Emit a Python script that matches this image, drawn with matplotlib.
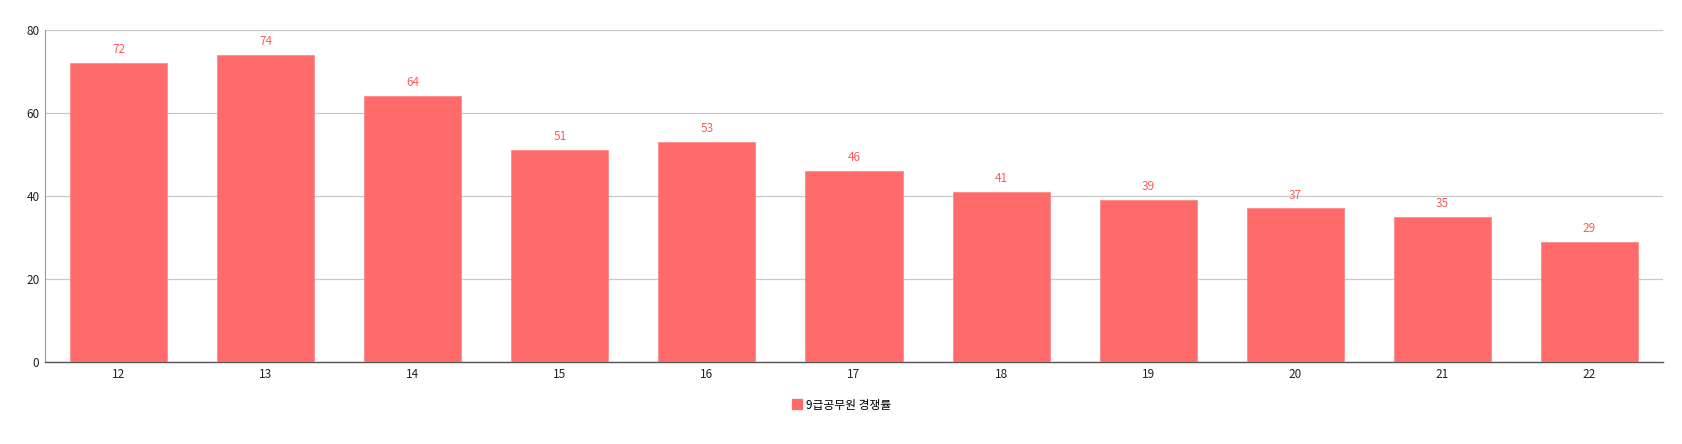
import matplotlib
matplotlib.use('Agg')
import matplotlib.pyplot as plt
from matplotlib.lines import Line2D

plt.rcParams['font.family'] = ['Noto Sans CJK KR', 'DejaVu Sans']

# 데이터
years = ['12', '13', '14', '15', '16', '17', '18', '19', '20', '21', '22']
ratios = [72, 74, 64, 51, 53, 46, 41, 39, 37, 35, 29]
series_name = '9급공무원 경쟁률'
bar_color = '#ff6b6b'

fig = plt.figure(figsize=(16.82, 4.44), dpi=100)
ax = fig.add_axes([45 / 1682, 1 - 362 / 444, 1618 / 1682, 332 / 444])

x = range(len(years))
ax.bar(x, ratios, width=0.66, color=bar_color, edgecolor='#ff8a8a', linewidth=0.6, zorder=3)

for xi, v in zip(x, ratios):
    ax.annotate(str(v), xy=(xi, v), xytext=(0, 5), textcoords='offset points',
                ha='center', va='bottom', fontsize=8.5, color='#ff5a5a')

ax.set_xlim(-0.5, len(years) - 0.5)
ax.set_ylim(0, 80)
ax.set_yticks([0, 20, 40, 60, 80])
ax.set_xticks(list(x))
ax.set_xticklabels(years)
ax.grid(axis='y', color='#c8c8c8', linewidth=0.9, zorder=0)

for s in ['top', 'right']:
    ax.spines[s].set_visible(False)
ax.spines['left'].set_color('#999999')
ax.spines['bottom'].set_color('#555555')
ax.spines['bottom'].set_linewidth(1.0)
ax.tick_params(axis='both', length=0, labelsize=8.5, labelcolor='#222222')
ax.tick_params(axis='x', pad=4)
ax.tick_params(axis='y', pad=4)

handle = Line2D([], [], marker='s', linestyle='none', markersize=7,
                markerfacecolor=bar_color, markeredgecolor=bar_color)
fig.legend([handle], [series_name], loc='center', bbox_to_anchor=(0.5, 1 - 405 / 444),
           frameon=False, fontsize=8.5, handletextpad=0.3, handlelength=1.0)

plt.savefig('out.png', dpi=100)
